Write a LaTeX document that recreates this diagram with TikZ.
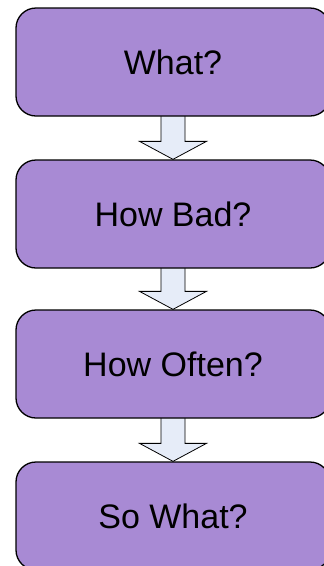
\documentclass[tikz,border=0pt]{standalone}
\usepackage{fontspec}
\setmainfont{Liberation Sans}
\usepackage{tikz}
\usetikzlibrary{calc,backgrounds}
\definecolor{lilac}{RGB}{168,138,212}
\definecolor{paleblue}{RGB}{230,236,248}

\begin{document}
\begin{tikzpicture}[x=1pt, y=1pt,
      stage/.style={draw=black, line width=1.3pt, fill=lilac, rounded corners=20pt,
        minimum width=314pt, minimum height=108pt, inner sep=0pt,
        font=\fontsize{34}{40}\selectfont},
      blockarr/.style={draw=black, line width=0.8pt, fill=paleblue, line join=miter}
    ]
      \useasboundingbox (0,0) rectangle (324,-566);
      \clip (0,0) rectangle (324,-566);
      \node[stage] (what) at (173,-62) {What?};
      \node[stage] (bad) at (173,-214) {How Bad?};
      \node[stage] (often) at (173,-364) {How Often?};
      \node[stage] (sowhat) at (173,-516) {So What?};
      \begin{scope}[on background layer]
        \foreach \a/\b in {what/bad, bad/often, often/sowhat}{
          \filldraw[blockarr] ($(\a.south)+(-12,2)$) -- ($(\b.north)+(-12,18)$) -- ++(-21.5,0)
            -- (\b.north) -- ++(33.5,18) -- ++(-21.5,0) -- ($(\a.south)+(12,2)$);
        }
      \end{scope}
    \end{tikzpicture}
\end{document}
